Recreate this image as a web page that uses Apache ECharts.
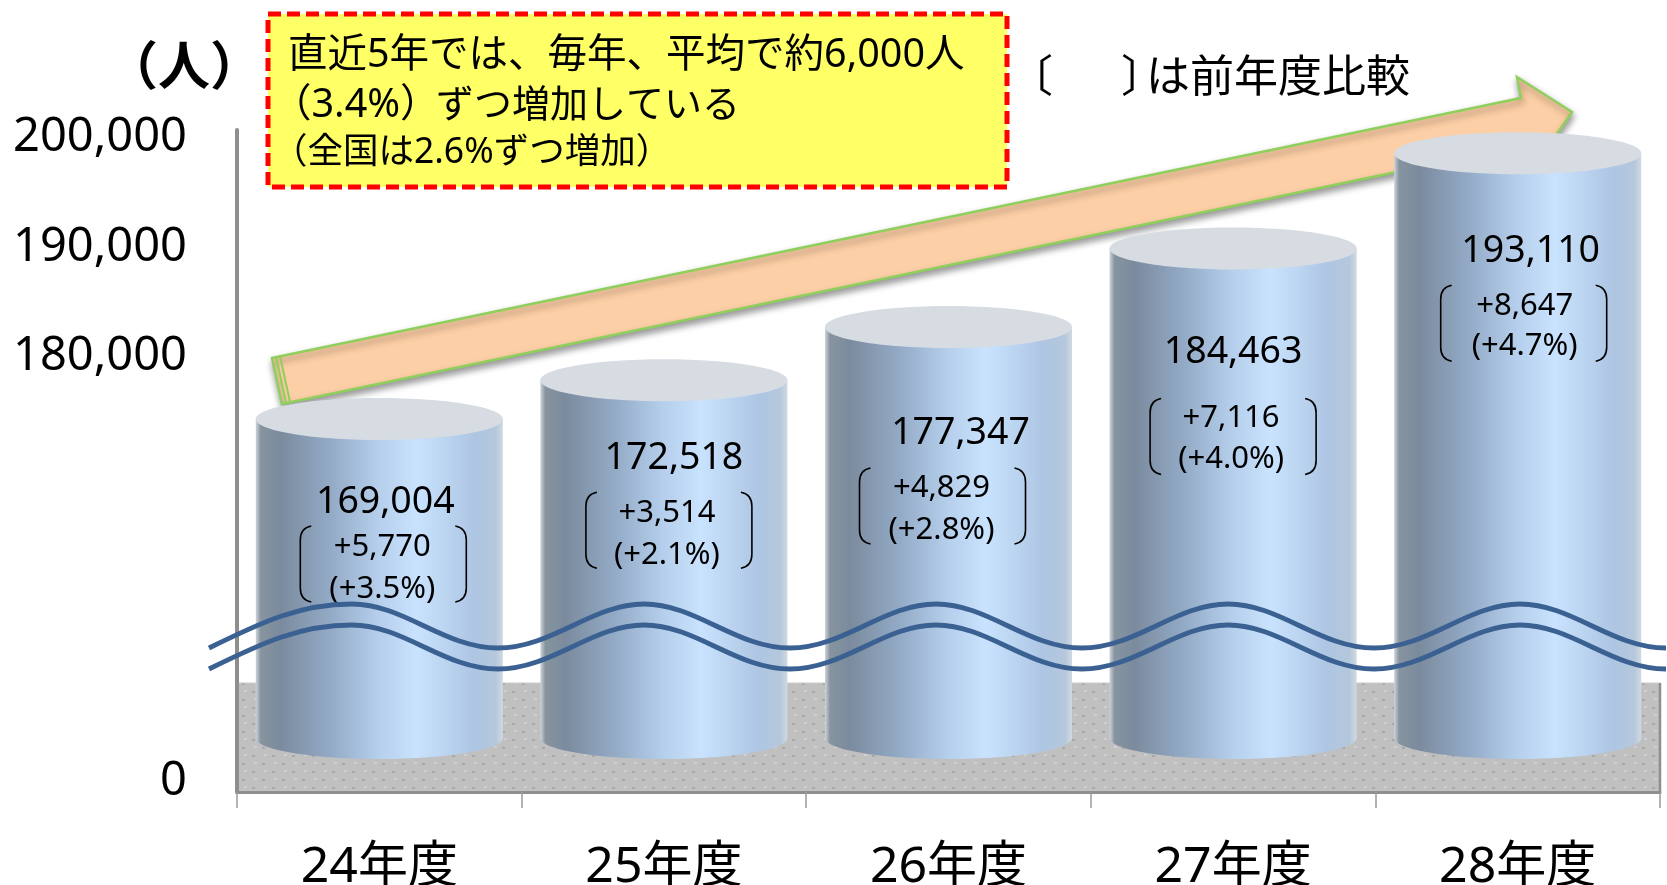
<!DOCTYPE html>
<html>
<head>
<meta charset="utf-8">
<title>chart</title>
<script src="https://cdn.jsdelivr.net/npm/echarts@6/dist/echarts.min.js"></script>
<style>
  html, body { margin: 0; padding: 0; background: #fff; }
  #main { width: 1667px; height: 885px; }
</style>
</head>
<body>
<div id="main"></div>
<script>
const categories = ['24年度', '25年度', '26年度', '27年度', '28年度'];
const totals = [169004, 172518, 177347, 184463, 193110];
const changes = [5770, 3514, 4829, 7116, 8647];
const changeRates = [3.5, 2.1, 2.8, 4.0, 4.7];
const yTickValues = [0, 180000, 190000, 200000];

// where the hand placed labels sit, relative to the top of each cylinder
const labelOffsets = [
  { total: [6, 83], change: [3, 128], rate: [3, 170], bracket: [-80, 107] },
  { total: [10, 78], change: [3, 133], rate: [3, 175], bracket: [-79, 112] },
  { total: [12, 106], change: [-7, 161], rate: [-7, 203], bracket: [-90, 141] },
  { total: [0, 104], change: [-2, 170], rate: [-2, 211], bracket: [-84, 150] },
  { total: [13, 98], change: [7, 153], rate: [7, 193], bracket: [-78, 132] }
];

const fmt = (n) => n.toLocaleString('en-US');
const FONT = '"Noto Sans", "Noto Sans CJK JP", sans-serif';

// dotted floor texture
function floorPattern() {
  const c = document.createElement('canvas');
  c.width = 20;
  c.height = 16;
  const ctx = c.getContext('2d');
  ctx.fillStyle = '#c0c0c0';
  ctx.fillRect(0, 0, 20, 16);
  ctx.fillStyle = '#d0d0d0';
  ctx.fillRect(4, 2, 3, 2);
  ctx.fillRect(14, 10, 3, 2);
  ctx.fillStyle = '#a8a8a8';
  ctx.fillRect(12, 3, 3, 2);
  ctx.fillRect(2, 11, 3, 2);
  return { image: c, repeat: 'repeat' };
}

const sideFill = {
  type: 'linear', x: 0, y: 0, x2: 1, y2: 0,
  colorStops: [
    { offset: 0, color: '#ccd4dc' },
    { offset: 0.02, color: '#87949f' },
    { offset: 0.1, color: '#7b8b9e' },
    { offset: 0.3, color: '#93aac6' },
    { offset: 0.5, color: '#b5cfec' },
    { offset: 0.65, color: '#c9e3fe' },
    { offset: 0.88, color: '#aec6e3' },
    { offset: 0.97, color: '#b4c7dc' },
    { offset: 1, color: '#d0d9e2' }
  ]
};

function renderCylinder(params, api) {
  const i = api.value(0);
  const top = api.coord([i, api.value(1)]);
  const base = api.coord([i, 140080]);
  const w = api.size([1, 0])[0] * 0.868;
  const ry = 21;
  const off = labelOffsets[i];
  const txt = (str, pos, size) => ({
    type: 'text',
    z2: 10,
    style: {
      text: str,
      x: top[0] + pos[0],
      y: top[1] + pos[1],
      fill: '#000',
      font: size + 'px ' + FONT,
      align: 'center',
      verticalAlign: 'middle'
    }
  });
  const bw = 168;
  const bh = 76;
  const bx = top[0] + off.bracket[0];
  const by = top[1] + off.bracket[1];
  const bracket = (d) => ({
    type: 'path',
    z2: 10,
    x: bx,
    y: by,
    shape: { pathData: d },
    style: { fill: null, stroke: '#000', lineWidth: 1.6 }
  });
  return {
    type: 'group',
    children: [
      { type: 'ellipse', z2: 1, shape: { cx: top[0], cy: base[1], rx: w / 2, ry: ry }, style: { fill: sideFill } },
      { type: 'rect', z2: 2, shape: { x: top[0] - w / 2, y: top[1], width: w, height: base[1] - top[1] }, style: { fill: sideFill } },
      { type: 'ellipse', z2: 3, shape: { cx: top[0], cy: top[1], rx: w / 2, ry: ry }, style: { fill: '#d7dce3' } },
      txt(fmt(totals[i]), off.total, 37.5),
      txt('+' + fmt(changes[i]), off.change, 31),
      txt('(+' + changeRates[i].toFixed(1) + '%)', off.rate, 31),
      bracket(`M12 0 Q1 2 1 14 L1 ${bh - 14} Q1 ${bh - 2} 12 ${bh}`),
      bracket(`M${bw - 12} 0 Q${bw - 1} 2 ${bw - 1} 14 L${bw - 1} ${bh - 14} Q${bw - 1} ${bh - 2} ${bw - 12} ${bh}`)
    ]
  };
}

// the two wave lines marking the axis break
function wavePath(dy) {
  const hi = 604 + dy;
  const lo = 648 + dy;
  const peaks = [352, 644, 936, 1228, 1520];
  let d = `M209 ${lo} C262 ${lo - 26} 300 ${hi} ${peaks[0]} ${hi}`;
  peaks.forEach((p, k) => {
    d += ` C${p + 52} ${hi} ${p + 92} ${lo} ${p + 146} ${lo}`;
    if (k < peaks.length - 1) {
      d += ` C${p + 200} ${lo} ${p + 240} ${hi} ${p + 292} ${hi}`;
    }
  });
  return d;
}

function renderWaves() {
  const line = (dy) => ({
    type: 'path',
    shape: { pathData: wavePath(dy) },
    style: { fill: null, stroke: '#3a6191', lineWidth: 5 }
  });
  return { type: 'group', children: [line(0), line(21)] };
}

const option = {
  animation: false,
  backgroundColor: '#fff',
  grid: { left: 237, right: 7, top: 130, bottom: 93, outerBoundsMode: 'none' },
  xAxis: {
    type: 'category',
    data: categories,
    axisLine: { onZero: false, lineStyle: { color: '#8e8e8e', width: 3 } },
    axisTick: { show: true, length: 16, lineStyle: { color: '#9a9a9a', width: 1.5 } },
    axisLabel: { color: '#000', fontSize: 50, fontFamily: FONT, margin: 51 }
  },
  yAxis: [
    {
      // tick labels only, the cylinders use the second axis
      type: 'value',
      min: -913,
      max: 200730,
      splitLine: { show: false },
      axisTick: { show: false },
      axisLine: { show: false },
      axisLabel: {
        color: '#000',
        fontSize: 47,
        fontFamily: FONT,
        margin: 50,
        customValues: yTickValues,
        formatter: (v) => fmt(v)
      },
      breaks: [{ start: 1000, end: 170000, gap: '46%' }],
      breakArea: { show: false }
    },
    {
      type: 'value',
      min: 135190,
      max: 195210,
      position: 'left',
      splitLine: { show: false },
      axisTick: { show: false },
      axisLabel: { show: false },
      axisLine: { show: true, onZero: false, lineStyle: { color: '#8e8e8e', width: 4 } }
    }
  ],
  series: [
    {
      type: 'custom',
      xAxisIndex: 0,
      yAxisIndex: 1,
      clip: false,
      z: 2,
      renderItem: renderCylinder,
      encode: { x: 0, y: 1 },
      data: totals.map((v, i) => [i, v])
    },
    {
      type: 'custom',
      xAxisIndex: 0,
      yAxisIndex: 1,
      clip: false,
      silent: true,
      z: 6,
      renderItem: renderWaves,
      data: [[0, 150000]]
    }
  ],
  graphic: [
    {
      type: 'rect',
      z: 0,
      shape: { x: 238, y: 683, width: 1422, height: 108 },
      style: { fill: floorPattern(), stroke: '#c9c9c9', lineWidth: 1 }
    },
    { type: 'line', z: 1, shape: { x1: 1660, y1: 683, x2: 1660, y2: 792 }, style: { stroke: '#8e8e8e', lineWidth: 2.5 } },
    {
      type: 'polygon',
      z: 1,
      shape: { points: [[272, 358], [1521, 98], [1517, 77], [1572, 112], [1535, 166], [1531, 144], [282, 404]] },
      style: {
        fill: '#fdcfa6',
        stroke: '#8fcf5c',
        lineWidth: 2.5,
        shadowBlur: 7,
        shadowOffsetX: 1,
        shadowOffsetY: 4,
        shadowColor: 'rgba(0,0,0,0.4)'
      }
    },
    { type: 'line', z: 1, shape: { x1: 276, y1: 357, x2: 286, y2: 403 }, style: { stroke: '#8fcf5c', lineWidth: 2 } },
    { type: 'line', z: 1, shape: { x1: 280, y1: 356, x2: 290, y2: 402 }, style: { stroke: '#8fcf5c', lineWidth: 2 } },
    {
      type: 'rect',
      z: 3,
      shape: { x: 268, y: 14, width: 739, height: 173 },
      style: { fill: '#ffff66', stroke: '#ff0000', lineWidth: 5, lineDash: [13, 6] }
    },
    { type: 'text', z: 4, style: { text: '直近5年では、毎年、平均で約6,000人', x: 288, y: 56, font: '39.5px ' + FONT, fill: '#000', verticalAlign: 'middle' } },
    { type: 'text', z: 4, style: { text: '（3.4%）', x: 272, y: 106, font: '39.5px ' + FONT, fill: '#000', verticalAlign: 'middle' } },
    { type: 'text', z: 4, style: { text: 'ずつ増加している', x: 436, y: 106, font: '38px ' + FONT, fill: '#000', verticalAlign: 'middle' } },
    { type: 'text', z: 4, style: { text: '（全国は2.6%ずつ増加）', x: 272, y: 153, font: '35.5px ' + FONT, fill: '#000', verticalAlign: 'middle' } },
    { type: 'text', z: 4, style: { text: '（人）', x: 184, y: 70, font: 'bold 52px ' + FONT, fill: '#000', align: 'center', verticalAlign: 'middle' } },
    { type: 'text', z: 4, style: { text: '〔', x: 1009, y: 79, font: '44px ' + FONT, fill: '#000', verticalAlign: 'middle' } },
    { type: 'text', z: 4, style: { text: '〕', x: 1121, y: 79, font: '44px ' + FONT, fill: '#000', verticalAlign: 'middle' } },
    { type: 'text', z: 4, style: { text: 'は前年度比較', x: 1146, y: 79, font: '44px ' + FONT, fill: '#000', verticalAlign: 'middle' } }
  ]
};

const chart = echarts.init(document.getElementById('main'));
chart.setOption(option);
</script>
</body>
</html>
